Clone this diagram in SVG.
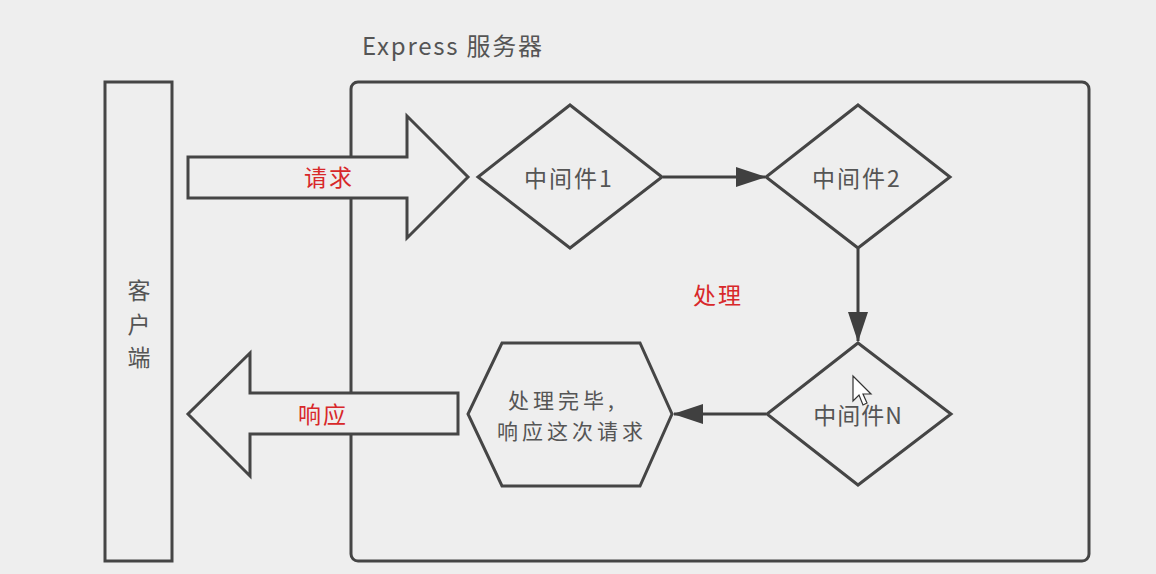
<svg xmlns="http://www.w3.org/2000/svg" width="1156" height="574" viewBox="0 0 1156 574">
  <defs>
    <marker id="arrowL" viewBox="0 0 30 20" refX="29" refY="10" markerWidth="30" markerHeight="20" markerUnits="userSpaceOnUse" orient="auto">
      <path d="M0,0 L30,10 L0,20 Z" fill="#404040"/>
    </marker>
  </defs>
  <style>
    .shape { fill: none; stroke: #454545; stroke-width: 3; stroke-linejoin: miter; }
    .fillshape { fill: #eeeeee; stroke: #454545; stroke-width: 3; }
    .label { font-family: "Noto Sans CJK SC", "Open Sans", "Noto Sans", sans-serif; font-size: 23px; fill: #555555; }
    .small { font-size: 21px; }
    .red { font-family: "Noto Sans CJK SC", "Noto Sans", sans-serif; font-size: 23px; fill: #d8282a; }
    .edge { stroke: #404040; stroke-width: 3; fill: none; }
  </style>
  <rect width="1156" height="574" fill="#eeeeee"/>

  <!-- title -->
  <text class="label" x="362" y="55" style="font-size:24px" textLength="180" lengthAdjust="spacing">Express 服务器</text>

  <!-- client column -->
  <g id="client">
    <rect class="shape" x="105" y="82" width="67" height="479"/>
    <text class="label" x="139" y="299" text-anchor="middle">客</text>
    <text class="label" x="139" y="333" text-anchor="middle">户</text>
    <text class="label" x="139" y="366" text-anchor="middle">端</text>
  </g>

  <!-- server container -->
  <g id="server">
    <rect class="shape" x="351" y="82" width="738" height="479" rx="7"/>
  </g>

  <!-- request block arrow -->
  <g id="request">
    <path class="fillshape" d="M188,157 L407,157 L407,116 L468,177 L407,238 L407,198 L188,198 Z"/>
    <text class="red" x="329" y="186" text-anchor="middle" letter-spacing="2">请求</text>
  </g>

  <!-- response block arrow -->
  <g id="response">
    <path class="fillshape" d="M458,393 L250,393 L250,353 L188,414 L250,476 L250,434 L458,434 Z"/>
    <text class="red" x="323" y="423" text-anchor="middle" letter-spacing="2">响应</text>
  </g>

  <!-- processing label -->
  <g id="processing">
    <text class="red" x="718" y="304" text-anchor="middle" letter-spacing="2">处理</text>
  </g>

  <!-- middleware 1 -->
  <g id="mw1">
    <path class="shape" d="M570,105 L662,177 L570,248 L478,177 Z"/>
    <text class="label" x="569" y="187" text-anchor="middle" letter-spacing="2">中间件1</text>
  </g>

  <!-- middleware 2 -->
  <g id="mw2">
    <path class="shape" d="M858,105 L950,177 L858,248 L766,177 Z"/>
    <text class="label" x="857" y="187" text-anchor="middle" letter-spacing="2">中间件2</text>
  </g>

  <!-- middleware N -->
  <g id="mwN">
    <path class="shape" d="M858,343 L951,414 L858,485 L767,414 Z"/>
    <text class="label" x="858" y="424" text-anchor="middle" letter-spacing="1">中间件N</text>
  </g>

  <!-- final step -->
  <g id="done">
    <path class="shape" d="M502,343 L640,343 L672,414 L640,486 L502,486 L468,414 Z"/>
    <text class="label small" x="563" y="408" text-anchor="middle" letter-spacing="4">处理完毕,</text>
    <text class="label small" x="572" y="439" text-anchor="middle" letter-spacing="4">响应这次请求</text>
  </g>

  <!-- connectors -->
  <g id="edges">
    <line class="edge" x1="663" y1="177" x2="765" y2="177" marker-end="url(#arrowL)"/>
    <line class="edge" x1="858" y1="249" x2="858" y2="341" marker-end="url(#arrowL)"/>
    <line class="edge" x1="766" y1="414" x2="674" y2="414" marker-end="url(#arrowL)"/>
  </g>

  <!-- pointer cursor -->
  <path d="M853,376 L853,401 L859,395 L863,405 L867,403 L863,394 L871,394 Z" fill="#ffffff" stroke="#333333" stroke-width="1.2"/>
</svg>
